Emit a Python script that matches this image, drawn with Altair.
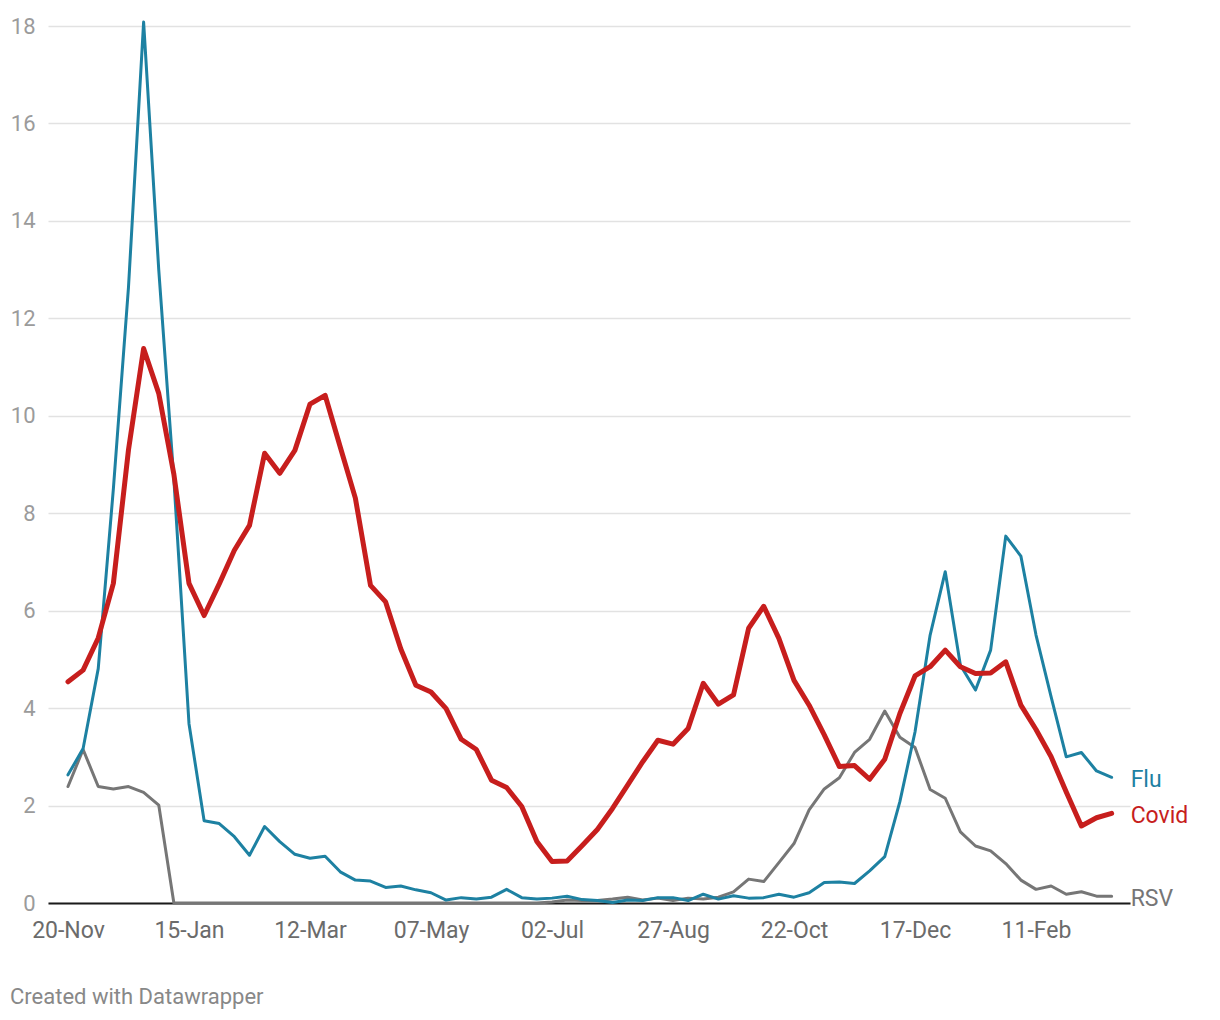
import altair as alt
import pandas as pd

# ---- data (weekly, from 20-Nov-2022) ----
START_DATE = "2022-11-20"
N_WEEKS = 70

covid = [4.54, 4.78, 5.44, 6.56, 9.30, 11.38, 10.46, 8.80, 6.56, 5.90,
         6.55, 7.24, 7.75, 9.23, 8.82, 9.29, 10.24, 10.42, 9.36, 8.31,
         6.52, 6.18, 5.22, 4.47, 4.33, 3.99, 3.36, 3.15, 2.52, 2.37,
         1.98, 1.26, 0.85, 0.86, 1.18, 1.51, 1.94, 2.42, 2.90, 3.34,
         3.26, 3.58, 4.51, 4.08, 4.27, 5.64, 6.09, 5.43, 4.57, 4.06,
         3.45, 2.80, 2.82, 2.54, 2.95, 3.89, 4.66, 4.85, 5.19, 4.85,
         4.71, 4.72, 4.95, 4.06, 3.56, 3.00, 2.28, 1.58, 1.75, 1.84]

flu = [2.63, 3.17, 4.81, 8.50, 12.64, 18.08, 13.00, 8.70, 3.68, 1.69,
       1.63, 1.36, 0.98, 1.57, 1.26, 1.00, 0.92, 0.96, 0.64, 0.47,
       0.45, 0.32, 0.35, 0.27, 0.21, 0.06, 0.11, 0.08, 0.12, 0.28,
       0.11, 0.08, 0.10, 0.14, 0.07, 0.05, 0.01, 0.06, 0.05, 0.11,
       0.11, 0.05, 0.18, 0.08, 0.15, 0.10, 0.11, 0.18, 0.12, 0.21,
       0.42, 0.43, 0.40, 0.66, 0.95, 2.08, 3.51, 5.50, 6.80, 4.88,
       4.37, 5.19, 7.53, 7.12, 5.50, 4.23, 3.00, 3.09, 2.71, 2.58]

rsv = [2.39, 3.15, 2.39, 2.34, 2.39, 2.27, 2.01, 0.00, 0.00, 0.00,
       0.00, 0.00, 0.00, 0.00, 0.00, 0.00, 0.00, 0.00, 0.00, 0.00,
       0.00, 0.00, 0.00, 0.00, 0.00, 0.00, 0.00, 0.00, 0.00, 0.00,
       0.00, 0.00, 0.02, 0.06, 0.05, 0.05, 0.08, 0.12, 0.06, 0.10,
       0.05, 0.10, 0.08, 0.12, 0.23, 0.49, 0.44, 0.83, 1.22, 1.91,
       2.34, 2.57, 3.09, 3.36, 3.94, 3.40, 3.19, 2.33, 2.15, 1.46,
       1.17, 1.07, 0.81, 0.47, 0.28, 0.35, 0.18, 0.23, 0.14, 0.14]

series_names = ["RSV", "Flu", "Covid"]
series_colors = ["#767676", "#1d81a2", "#c71e1d"]
series_widths = [3, 3, 5]

tick_dates = ["2022-11-20", "2023-01-15", "2023-03-12", "2023-05-07",
              "2023-07-02", "2023-08-27", "2023-10-22", "2023-12-17",
              "2024-02-11"]
y_ticks = [0, 2, 4, 6, 8, 10, 12, 14, 16, 18]
x_domain = ["2022-11-10 18:00", "2024-03-25 12:00"]

# ---- build tables ----
dates = pd.date_range(START_DATE, periods=N_WEEKS, freq="7D").strftime("%Y-%m-%d")
values = {"RSV": rsv, "Flu": flu, "Covid": covid}
rows = []
for name in series_names:
    for d, v in zip(dates, values[name]):
        rows.append({"date": d, "series": name, "value": v})
df = pd.DataFrame(rows)
df["is_last"] = df["date"] == dates[-1]


def ms(s):
    return int(pd.Timestamp(s, tz="UTC").value // 10**6)


x_scale = alt.Scale(type="utc", domain=[ms(s) for s in x_domain], nice=False)
y_scale = alt.Scale(domain=[0, 18], nice=False, zero=True)

x_axis = alt.Axis(
    title=None, values=[ms(s) for s in tick_dates],
    labelExpr="utcFormat(datum.value, '%d-%b')",
    grid=False, ticks=False, tickSize=0, labelPadding=16,
    domain=True, domainColor="#1a1a1a", domainWidth=2,
    labelFont="Roboto", labelFontSize=23, labelColor="#6b6b6b",
    labelFlush=False, labelOverlap=False,
)
y_axis = alt.Axis(
    title=None, values=y_ticks, grid=True, gridColor="#e2e2e2", gridWidth=1.3,
    ticks=False, tickSize=0, domain=False, labelPadding=13,
    labelFont="Roboto", labelFontSize=22, labelColor="#9b9b9b",
)

color_scale = alt.Scale(domain=series_names, range=series_colors)

base = alt.Chart(df).encode(
    x=alt.X("date:T", scale=x_scale, axis=x_axis),
    y=alt.Y("value:Q", scale=y_scale, axis=y_axis),
)

layers = []
for name, col, w in zip(series_names, series_colors, series_widths):
    layers.append(
        base.transform_filter(alt.datum.series == name)
        .mark_line(color=col, strokeWidth=w, strokeJoin="round", strokeCap="round")
    )

labels = (
    base.transform_filter(alt.datum.is_last)
    .mark_text(align="left", baseline="middle", dx=19, dy=3,
               font="Roboto", fontSize=23)
    .encode(
        text="series:N",
        color=alt.Color("series:N", scale=color_scale, legend=None),
    )
)

chart = (
    alt.layer(*layers, labels)
    .properties(
        width=1082,
        height=877,
        padding={"left": 40, "top": 18, "right": 70, "bottom": 115},
        autosize=alt.AutoSizeParams(type="none"),
        view=alt.ViewBackground(stroke="transparent", strokeWidth=0),
        title=alt.TitleParams(
            "Created with Datawrapper", orient="bottom", anchor="start",
            frame="group", dx=-38, offset=45, font="Roboto", fontSize=22,
            fontWeight="normal", color="#888888",
        ),
    )
    .configure_view(stroke="transparent", strokeWidth=0)
    .configure(background="white")
)

chart.save("out.html", embed_options={"renderer": "svg", "actions": False})
